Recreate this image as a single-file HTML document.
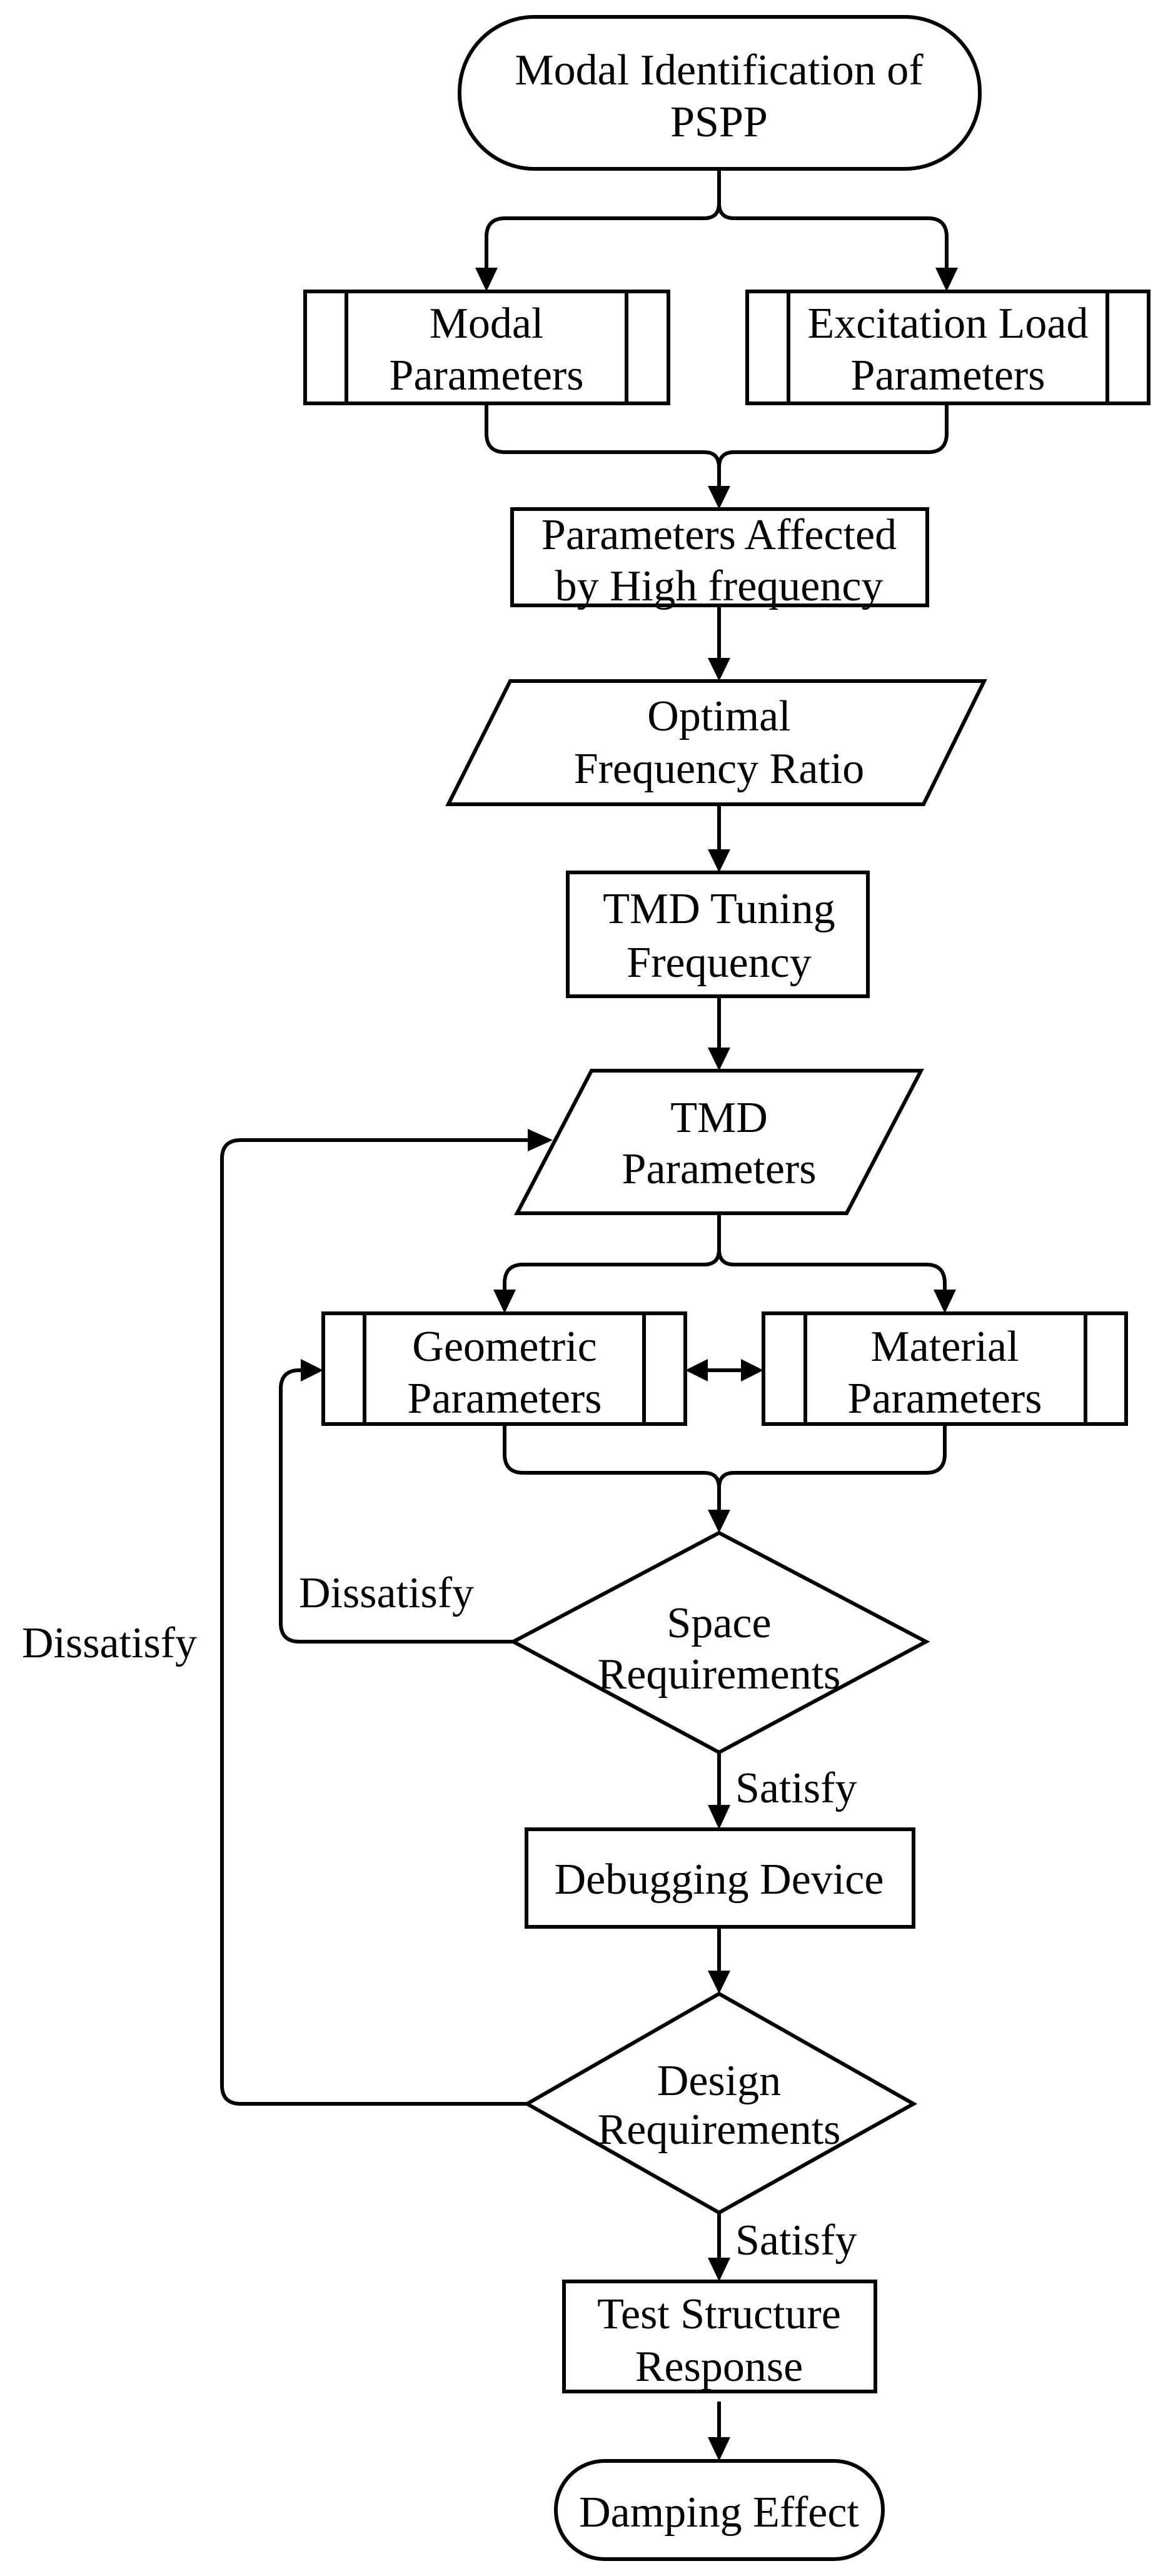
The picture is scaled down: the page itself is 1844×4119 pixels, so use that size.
<!DOCTYPE html>
<html><head><style>html,body{margin:0;padding:0;background:#fff}svg{display:block}</style></head>
<body>
<svg width="1844" height="4119" viewBox="0 0 1844 4119" xmlns="http://www.w3.org/2000/svg">
<g fill="none" stroke="#000" stroke-width="6" stroke-linejoin="miter">
<rect x="735" y="27" width="832" height="243" rx="120" ry="120"/>
<path d="M1150 270 V325 Q1150 349 1126 349 H808 Q778 349 778 379 V430"/>
<path d="M1150 325 Q1150 349 1174 349 H1484 Q1514 349 1514 379 V430"/>
<rect x="488" y="466" width="581" height="179"/>
<line x1="554" y1="466" x2="554" y2="645"/><line x1="1002" y1="466" x2="1002" y2="645"/>
<rect x="1195" y="466" width="642" height="179"/>
<line x1="1261" y1="466" x2="1261" y2="645"/><line x1="1771" y1="466" x2="1771" y2="645"/>
<path d="M778 645 V693 Q778 723 808 723 H1126 Q1150 723 1150 747 V780"/>
<path d="M1514 645 V693 Q1514 723 1484 723 H1174 Q1150 723 1150 747"/>
<rect x="819" y="814" width="664" height="154"/>
<line x1="1150" y1="968" x2="1150" y2="1055"/>
<polygon points="717,1286 816,1089 1574,1089 1477,1286"/>
<line x1="1150" y1="1286" x2="1150" y2="1360"/>
<rect x="908" y="1395" width="480" height="198"/>
<line x1="1150" y1="1593" x2="1150" y2="1680"/>
<path d="M843 3364 H385 Q355 3364 355 3334 V1853 Q355 1823 385 1823 H852"/>
<line x1="1150" y1="2800" x2="1150" y2="2890"/>
<rect x="842" y="2925" width="619" height="156"/>
<line x1="1150" y1="3081" x2="1150" y2="3155"/>
<polygon points="1150,3188 1461,3364 1150,3538 843,3364"/>
<line x1="1150" y1="3538" x2="1150" y2="3613"/>
<rect x="902" y="3648" width="498" height="176"/>
<line x1="1150" y1="3840" x2="1150" y2="3900"/>
<rect x="889" y="3935" width="523" height="157" rx="78" ry="78"/>
</g>
<g fill="#000">
<polygon points="760,428 796,428 778,466"/>
<polygon points="1496,428 1532,428 1514,466"/>
<polygon points="1132,777 1168,777 1150,814"/>
<polygon points="1132,1052 1168,1052 1150,1089"/>
<polygon points="1132,1358 1168,1358 1150,1395"/>
<polygon points="844,1805 844,1841 884,1823"/>
<polygon points="1132,2886 1168,2886 1150,2925"/>
<polygon points="1132,3151 1168,3151 1150,3188"/>
<polygon points="1132,3610 1168,3610 1150,3648"/>
<polygon points="1132,3897 1168,3897 1150,3935"/>
</g>
<g transform="translate(0,12)">
<g fill="none" stroke="#000" stroke-width="6">
<polygon points="827,1928 946,1700 1473,1700 1354,1928"/>
<path d="M1150 1928 V1986 Q1150 2010 1126 2010 H837 Q807 2010 807 2040 V2052"/>
<path d="M1150 1986 Q1150 2010 1174 2010 H1481 Q1511 2010 1511 2040 V2052"/>
<rect x="517" y="2088" width="579" height="177"/>
<line x1="583" y1="2088" x2="583" y2="2265"/><line x1="1030" y1="2088" x2="1030" y2="2265"/>
<rect x="1221" y="2088" width="580" height="177"/>
<line x1="1288" y1="2088" x2="1288" y2="2265"/><line x1="1736" y1="2088" x2="1736" y2="2265"/>
<line x1="1130" y1="2179" x2="1187" y2="2179"/>
<path d="M807 2265 V2313 Q807 2343 837 2343 H1126 Q1150 2343 1150 2367 V2405"/>
<path d="M1511 2265 V2313 Q1511 2343 1481 2343 H1174 Q1150 2343 1150 2367"/>
<polygon points="1150,2439 1481,2613 1150,2790 821,2613"/>
<path d="M821 2613 H479 Q449 2613 449 2583 V2209 Q449 2179 479 2179 H485"/>
</g>
<g fill="#000">
<polygon points="1132,1663 1168,1663 1150,1700"/>
<polygon points="789,2050 825,2050 807,2088"/>
<polygon points="1493,2050 1529,2050 1511,2088"/>
<polygon points="1096,2179 1132,2161 1132,2197"/>
<polygon points="1221,2179 1185,2161 1185,2197"/>
<polygon points="1132,2402 1168,2402 1150,2439"/>
<polygon points="481,2161 481,2197 517,2179"/>
</g>
</g>
<g font-family="'Liberation Serif', serif" font-size="70" text-anchor="middle" fill="#000">
<text x="1150" y="135">Modal Identification of</text>
<text x="1150" y="218">PSPP</text>
<text x="778" y="540">Modal</text>
<text x="778" y="623">Parameters</text>
<text x="1516" y="540">Excitation Load</text>
<text x="1516" y="623">Parameters</text>
<text x="1150" y="878">Parameters Affected</text>
<text x="1150" y="960">by High frequency</text>
<text x="1150" y="1168">Optimal</text>
<text x="1150" y="1252">Frequency Ratio</text>
<text x="1150" y="1476">TMD Tuning</text>
<text x="1150" y="1562">Frequency</text>
<text x="1150" y="1810">TMD</text>
<text x="1150" y="1892">Parameters</text>
<text x="807" y="2176">Geometric</text>
<text x="807" y="2259">Parameters</text>
<text x="1511" y="2176">Material</text>
<text x="1511" y="2259">Parameters</text>
<text x="1150" y="2618">Space</text>
<text x="1150" y="2700">Requirements</text>
<text x="1150" y="3028">Debugging Device</text>
<text x="1150" y="3350">Design</text>
<text x="1150" y="3428">Requirements</text>
<text x="1150" y="3723">Test Structure</text>
<text x="1150" y="3807">Response</text>
<text x="1150" y="4040">Damping Effect</text>
<g text-anchor="start">
<text x="478" y="2570">Dissatisfy</text>
<text x="35" y="2650">Dissatisfy</text>
<text x="1176" y="2882">Satisfy</text>
<text x="1176" y="3605">Satisfy</text>
</g>
</g>
</svg>
</body></html>
